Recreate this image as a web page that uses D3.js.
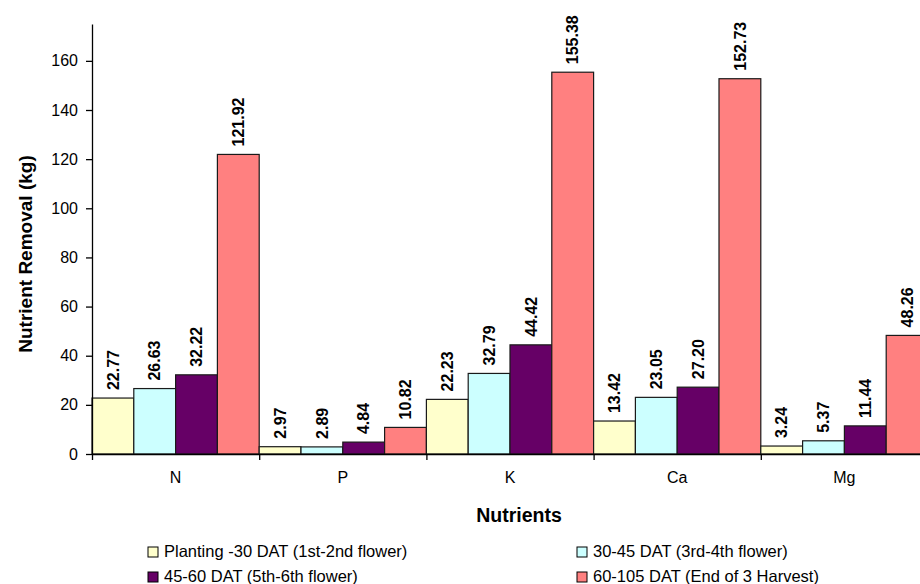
<!DOCTYPE html>
<html>
<head>
<meta charset="utf-8">
<script src="https://cdn.jsdelivr.net/npm/d3@7"></script>
<style>
  html, body { margin: 0; padding: 0; background: #fff; }
  svg { display: block; font-family: "Liberation Sans", Arial, Helvetica, sans-serif; }
</style>
</head>
<body>
<svg id="chart" width="920" height="584"></svg>
<script>
// Nutrient removal by growth stage
const categories = ["N", "P", "K", "Ca", "Mg"];
const seriesNames = [
  "Planting -30 DAT (1st-2nd flower)",
  "30-45 DAT (3rd-4th flower)",
  "45-60 DAT (5th-6th flower)",
  "60-105 DAT (End of 3 Harvest)"
];
const planting30 = [22.77, 2.97, 22.23, 13.42, 3.24];
const dat30to45  = [26.63, 2.89, 32.79, 23.05, 5.37];
const dat45to60  = [32.22, 4.84, 44.42, 27.20, 11.44];
const dat60to105 = [121.92, 10.82, 155.38, 152.73, 48.26];
const yTicks = [0, 20, 40, 60, 80, 100, 120, 140, 160];

const seriesValues = [planting30, dat30to45, dat45to60, dat60to105];
const colors = ["#FFFFCC", "#CCFFFF", "#660066", "#FF8080"];

const svg = d3.select("#chart");

const plotLeft = 92, plotBottom = 454, plotTop = 24;
const catWidth = 167.2;
const plotRight = plotLeft + catWidth * categories.length;

const x = d3.scaleBand().domain(categories).range([plotLeft, plotRight]).padding(0);
const xs = d3.scaleBand().domain(d3.range(seriesNames.length)).range([0, x.bandwidth()]).padding(0);
const y = d3.scaleLinear().domain([0, 175]).range([plotBottom, plotTop]);

// bars
const groups = svg.append("g").selectAll("g")
  .data(categories)
  .join("g")
  .attr("transform", d => `translate(${x(d)},0)`);

const cells = groups.selectAll("g")
  .data((c, ci) => seriesValues.map((vals, si) => ({ si, v: vals[ci] })))
  .join("g");

cells.append("rect")
  .attr("x", d => xs(d.si))
  .attr("y", d => y(d.v))
  .attr("width", xs.bandwidth())
  .attr("height", d => plotBottom - y(d.v))
  .attr("fill", d => colors[d.si])
  .attr("stroke", "#1a1a1a")
  .attr("stroke-width", 1.2);

cells.append("text")
  .attr("transform", d => `translate(${xs(d.si) + xs.bandwidth() / 2},${y(d.v) - 8}) rotate(-90)`)
  .attr("dy", "0.36em")
  .attr("text-anchor", "start")
  .attr("font-size", 16)
  .attr("font-weight", "bold")
  .attr("fill", "#000")
  .text(d => d.v.toFixed(2));

// y axis
const yAxis = svg.append("g")
  .attr("transform", `translate(${plotLeft},0)`)
  .call(d3.axisLeft(y).tickValues(yTicks).tickSize(6).tickPadding(8).tickSizeOuter(0));
yAxis.attr("font-family", null);
yAxis.selectAll("text").attr("font-size", 16).attr("fill", "#000");
yAxis.selectAll("line, path").attr("stroke", "#000").attr("stroke-width", 1.3);

// x axis: boundary ticks
const xb = d3.scaleLinear().domain([0, categories.length]).range([plotLeft, plotRight]);
const xAxisTicks = svg.append("g")
  .attr("transform", `translate(0,${plotBottom})`)
  .call(d3.axisBottom(xb).tickValues(d3.range(categories.length + 1)).tickSize(6).tickSizeOuter(0).tickFormat(""));
xAxisTicks.selectAll("line, path").attr("stroke", "#000").attr("stroke-width", 1.3);

// x axis: category labels
const xAxisLabels = svg.append("g")
  .attr("transform", `translate(0,${plotBottom})`)
  .call(d3.axisBottom(x).tickSize(0).tickPadding(18));
xAxisLabels.attr("font-family", null);
xAxisLabels.select(".domain").remove();
xAxisLabels.selectAll("text").attr("font-size", 16).attr("fill", "#000");

// axis titles
svg.append("text")
  .attr("x", 519).attr("y", 522)
  .attr("text-anchor", "middle")
  .attr("font-size", 19.5).attr("font-weight", "bold")
  .text("Nutrients");

svg.append("text")
  .attr("transform", "translate(32,254) rotate(-90)")
  .attr("text-anchor", "middle")
  .attr("font-size", 19).attr("font-weight", "bold")
  .text("Nutrient Removal (kg)");

// legend
const legendPos = [
  { x: 148, y: 557 },
  { x: 577, y: 557 },
  { x: 148, y: 582 },
  { x: 577, y: 582 }
];
const legend = svg.append("g").selectAll("g")
  .data(seriesNames)
  .join("g")
  .attr("transform", (d, i) => `translate(${legendPos[i].x},${legendPos[i].y})`);
legend.append("rect")
  .attr("x", 0).attr("y", -10)
  .attr("width", 10).attr("height", 10)
  .attr("fill", (d, i) => colors[i])
  .attr("stroke", "#000").attr("stroke-width", 1);
legend.append("text")
  .attr("x", 16).attr("y", 0)
  .attr("font-size", 16.5)
  .text(d => d);
</script>
</body>
</html>
